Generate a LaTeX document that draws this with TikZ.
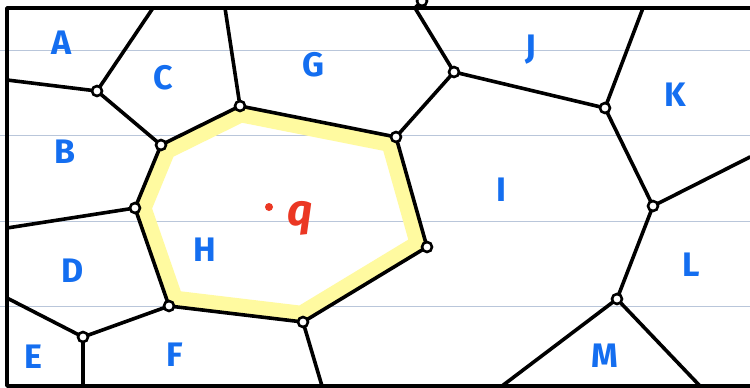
\documentclass[tikz,border=0pt]{standalone}
\usepackage{fontspec}
\setmainfont{Fira Sans}
\definecolor{ink}{RGB}{20,110,240}
\definecolor{redink}{RGB}{235,55,35}
\definecolor{hilite}{RGB}{255,250,160}
\definecolor{rule}{RGB}{185,198,218}
\begin{document}
\begin{tikzpicture}[x=1pt,y=-1pt,
  edge/.style={line width=3.6pt,black,line join=round,line cap=round},
  vtx/.style={circle,draw=black,line width=2.6pt,fill=white,minimum size=10pt,inner sep=0pt},
  lbl/.style={text=ink,font=\fontsize{34}{34}\selectfont\bfseries},
  paperline/.style={rule,line width=1pt}]
\useasboundingbox (0,0) rectangle (750,388);
\fill[white] (0,0) rectangle (750,388);
% ruled paper
\foreach \yy in {50,135,221,306} \draw[paperline] (0,\yy) -- (750,\yy);
% vertices coordinates
\coordinate (v1) at (97,91);
\coordinate (v2) at (161,145);
\coordinate (v3) at (240,106);
\coordinate (v4) at (396,137);
\coordinate (v5) at (454,72);
\coordinate (v6) at (605,108);
\coordinate (v7) at (653,206);
\coordinate (v8) at (617,299);
\coordinate (v9) at (427,247);
\coordinate (v10) at (303,322);
\coordinate (v11) at (169,306);
\coordinate (v12) at (83,337);
\coordinate (v13) at (135,208);
\coordinate (vt) at (422,1);
% highlight
\begin{scope}
\clip (v2) -- (v3) -- (v4) -- (v9) -- (v10) -- (v11) -- (v13) -- cycle;
\draw[hilite,line width=32pt,line join=round] (v2) -- (v3) -- (v4) -- (v9) -- (v10) -- (v11) -- (v13) -- cycle;
\end{scope}
% frame
\draw[edge,line cap=butt] (750,8) -- (7,8) -- (7,386) -- (750,386);
% border endpoints
\coordinate (t1) at (153,8);
\coordinate (t2) at (225,8);
\coordinate (t3) at (415,8);
\coordinate (t4) at (643,8);
\coordinate (l1) at (7,80);
\coordinate (l2) at (7,228);
\coordinate (l3) at (7,298);
\coordinate (b1) at (83,386);
\coordinate (b2) at (322,386);
\coordinate (b3) at (502,386);
\coordinate (b4) at (700,386);
\coordinate (r1) at (750,157);
% edges
\draw[edge] (l1) -- (v1) -- (t1);
\draw[edge] (v1) -- (v2) -- (v3) -- (t2);
\draw[edge] (v3) -- (v4) -- (v5) -- (t3) -- (vt);
\draw[edge] (v5) -- (v6) -- (t4);
\draw[edge] (v6) -- (v7) -- (r1);
\draw[edge] (v7) -- (v8) -- (b3);
\draw[edge] (v8) -- (b4);
\draw[edge] (v4) -- (v9) -- (v10) -- (v11) -- (v13) -- (v2);
\draw[edge] (v13) -- (l2);
\draw[edge] (v11) -- (v12) -- (l3);
\draw[edge] (v12) -- (b1);
\draw[edge] (v10) -- (b2);
% vertex circles
\foreach \v in {v1,v2,v3,v4,v5,v6,v7,v8,v9,v10,v11,v12,v13,vt}
  \node[vtx] (c\v) at (\v) {};
% labels
\node[lbl] (A) at (62,43) {A};
\node[lbl] (B) at (65,152) {B};
\node[lbl] (C) at (163,78) {C};
\node[lbl] (G) at (313,65) {G};
\node[lbl] (J) at (531,50) {J};
\node[lbl] (K) at (675,95) {K};
\node[lbl] (I) at (501,190) {I};
\node[lbl] (H) at (205,250) {H};
\node[lbl] (D) at (73,271) {D};
\node[lbl] (E) at (33,357) {E};
\node[lbl] (F) at (175,355) {F};
\node[lbl] (L) at (691,265) {L};
\node[lbl] (M) at (605,356) {M};
% query point
\fill[redink] (269,207) circle (4pt);
\node[text=redink,font=\fontsize{44}{44}\selectfont\bfseries\itshape] (q) at (300,218) {q};
\end{tikzpicture}
\end{document}
